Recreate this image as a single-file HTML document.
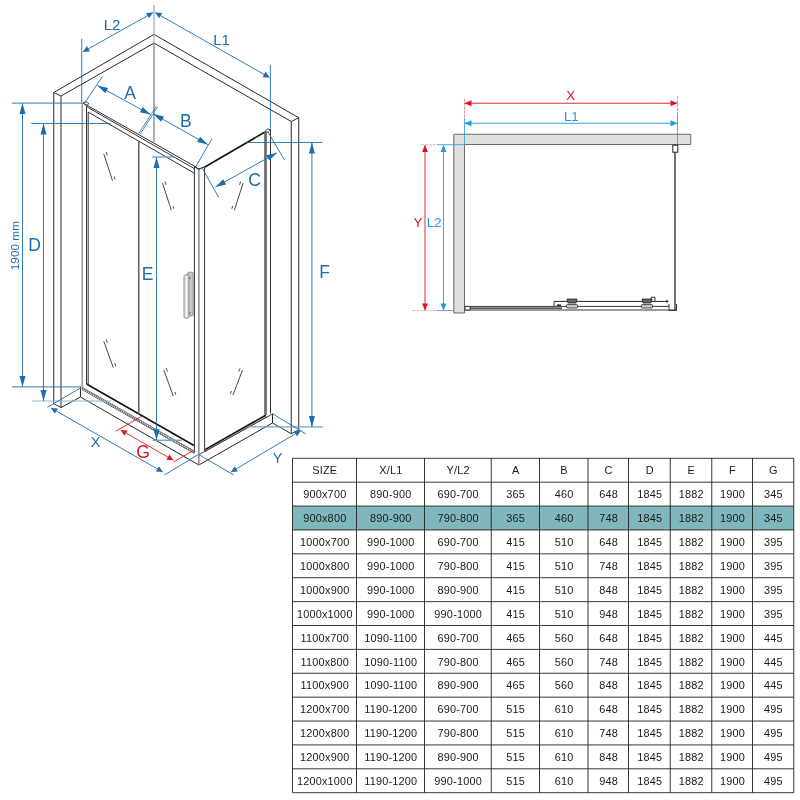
<!DOCTYPE html>
<html><head><meta charset="utf-8"><title>Shower enclosure dimensions</title>
<style>
html,body{margin:0;padding:0;background:#fff;}
body{width:800px;height:800px;overflow:hidden;}
svg{display:block;font-family:"Liberation Sans",sans-serif;will-change:transform;}
</style></head><body>
<svg width="800" height="800" viewBox="0 0 800 800">
<rect width="800" height="800" fill="#fff"/>
<polyline points="53.75,403.75 53.75,92.5 154,34.4 298.75,117.75 298.75,430 291.25,433.75 291.25,121.5 154,43.1 61,96 61,407.5 53.75,403.75" stroke="#2a2a2a" stroke-width="1" fill="none"/>
<line x1="53.75" y1="92.5" x2="61" y2="96" stroke="#2a2a2a" stroke-width="1" />
<line x1="298.75" y1="117.75" x2="291.25" y2="121.5" stroke="#2a2a2a" stroke-width="1" />
<line x1="154" y1="43.1" x2="154" y2="141.9" stroke="#777" stroke-width="1.2" />
<line x1="154" y1="5" x2="154" y2="43" stroke="#6fa3c8" stroke-width="1" />
<polyline points="61,407.5 80.5,397 198.9,465 272.5,423" stroke="#2a2a2a" stroke-width="1" fill="none"/>
<line x1="80.5" y1="387.5" x2="80.5" y2="397" stroke="#2a2a2a" stroke-width="1" />
<line x1="272.5" y1="413.75" x2="272.5" y2="423" stroke="#2a2a2a" stroke-width="1" />
<line x1="272.5" y1="423" x2="291.25" y2="433.75" stroke="#2a2a2a" stroke-width="1" />
<line x1="82" y1="387.2" x2="194.4" y2="451.2" stroke="#444" stroke-width="0.7" />
<line x1="82" y1="389.6" x2="194.4" y2="453.6" stroke="#444" stroke-width="0.7" />
<line x1="198.9" y1="454.6" x2="272.5" y2="414" stroke="#333" stroke-width="0.9" />
<line x1="82" y1="388.4" x2="194.4" y2="452.4" stroke="#555" stroke-width="2.2" stroke-dasharray="1 1"/>
<line x1="86.6" y1="384" x2="194" y2="445.5" stroke="#111" stroke-width="1.5" />
<line x1="265.8" y1="415.2" x2="205" y2="449.6" stroke="#111" stroke-width="1.6" />
<line x1="267.5" y1="416.3" x2="205" y2="451.6" stroke="#444" stroke-width="0.8" />
<line x1="82.2" y1="103" x2="82.2" y2="387.5" stroke="#888" stroke-width="1.3" />
<line x1="86.5" y1="106" x2="86.5" y2="384" stroke="#333" stroke-width="1" />
<line x1="88.2" y1="112" x2="88.2" y2="384.5" stroke="#333" stroke-width="1" />
<line x1="84" y1="103.6" x2="196" y2="167" stroke="#333" stroke-width="1" />
<line x1="86" y1="106.3" x2="195" y2="169" stroke="#333" stroke-width="1" />
<line x1="88" y1="112" x2="194.4" y2="173.2" stroke="#333" stroke-width="1" />
<polyline points="83,103 86,101.8 89,103.6 86.5,105.5 83,103" stroke="#333" stroke-width="0.9" fill="none"/>
<line x1="138.75" y1="142" x2="138.75" y2="414" stroke="#666" stroke-width="1.6" />
<line x1="194.4" y1="166.5" x2="194.4" y2="452.6" stroke="#333" stroke-width="1" />
<line x1="198.9" y1="169" x2="198.9" y2="465" stroke="#888" stroke-width="1.5" />
<line x1="204.6" y1="168" x2="204.6" y2="451" stroke="#333" stroke-width="1" />
<polyline points="194.4,166.5 198.5,169 204.4,167" stroke="#222" stroke-width="1.2" fill="none"/>
<line x1="204.4" y1="167.3" x2="265" y2="132" stroke="#111" stroke-width="1.6" />
<line x1="265.5" y1="132" x2="265.5" y2="415" stroke="#666" stroke-width="2.6" />
<line x1="270.5" y1="129.5" x2="270.5" y2="413.5" stroke="#333" stroke-width="1" />
<polyline points="265,131.5 267.5,128.8 270.5,129.8 268,132.3 265,131.5" stroke="#333" stroke-width="0.9" fill="none"/>
<rect x="187.6" y="272.2" width="5.6" height="43.8" rx="1.6" fill="#cbc7c7" stroke="#777" stroke-width="0.8"/>
<rect x="184" y="274.8" width="4.9" height="43.4" rx="1.6" fill="#e4e1e1" stroke="#777" stroke-width="0.8"/>
<line x1="186.4" y1="276.5" x2="186.4" y2="316.5" stroke="#f6f5f5" stroke-width="1.2" />
<line x1="189.9" y1="277" x2="189.9" y2="279" stroke="#444" stroke-width="0.8" />
<line x1="189.9" y1="312" x2="189.9" y2="314" stroke="#444" stroke-width="0.8" />
<line x1="103.75" y1="153.75" x2="112.5" y2="180.6" stroke="#333" stroke-width="0.9" />
<line x1="106.19507667982853" y1="152.07460672610245" x2="107.27953992102877" y2="155.40235964338544" stroke="#333" stroke-width="0.9" />
<line x1="114.17046007897122" y1="176.54764035661458" x2="115.1" y2="179.4" stroke="#333" stroke-width="0.9" />
<line x1="162.5" y1="183.1" x2="171.25" y2="210" stroke="#333" stroke-width="0.9" />
<line x1="164.9453370653143" y1="181.42452194936632" x2="166.02797760811407" y2="184.75286830380213" stroke="#333" stroke-width="0.9" />
<line x1="172.92202239188592" y1="205.94713169619789" x2="173.85" y2="208.8" stroke="#333" stroke-width="0.9" />
<line x1="243.1" y1="183.1" x2="234.4" y2="210" stroke="#333" stroke-width="0.9" />
<line x1="240.65386305472614" y1="181.42426250895022" x2="239.5768216716432" y2="184.7544249462987" stroke="#333" stroke-width="0.9" />
<line x1="232.72317832835682" y1="205.9455750537013" x2="231.8" y2="208.8" stroke="#333" stroke-width="0.9" />
<line x1="103.75" y1="341.25" x2="113.25" y2="367.5" stroke="#333" stroke-width="0.9" />
<line x1="106.1798477138997" y1="339.5798423673545" x2="107.3709137166017" y2="342.8709457958732" stroke="#333" stroke-width="0.9" />
<line x1="114.82908628339828" y1="363.47905420412684" x2="115.85" y2="366.3" stroke="#333" stroke-width="0.9" />
<line x1="163.75" y1="370" x2="173.25" y2="396" stroke="#333" stroke-width="0.9" />
<line x1="166.17840352353824" y1="368.33036753810467" x2="167.3795788587706" y2="371.61779477137225" stroke="#333" stroke-width="0.9" />
<line x1="174.8204211412294" y1="391.9822052286278" x2="175.85" y2="394.8" stroke="#333" stroke-width="0.9" />
<line x1="242.5" y1="370" x2="233" y2="395" stroke="#333" stroke-width="0.9" />
<line x1="240.0776088803118" y1="368.3326082097058" x2="238.8343467181293" y2="371.6043507417651" stroke="#333" stroke-width="0.9" />
<line x1="231.46565328187071" y1="390.99564925823495" x2="230.4" y2="393.8" stroke="#333" stroke-width="0.9" />
<line x1="12" y1="103.1" x2="82.5" y2="103.1" stroke="#1c6dab" stroke-width="0.9" />
<line x1="12" y1="386.9" x2="81.25" y2="386.9" stroke="#1c6dab" stroke-width="0.9" />
<line x1="22.5" y1="103.1" x2="22.5" y2="386.9" stroke="#1c6dab" stroke-width="0.9" />
<polygon points="22.50,103.10 25.50,114.10 19.50,114.10" fill="#1c6dab"/>
<polygon points="22.50,386.90 19.50,375.90 25.50,375.90" fill="#1c6dab"/>
<line x1="31.25" y1="123.5" x2="110.6" y2="123.5" stroke="#1c6dab" stroke-width="0.9" />
<line x1="31.9" y1="401" x2="111.25" y2="401" stroke="#8fb5d3" stroke-width="1.2" />
<line x1="43.5" y1="123.5" x2="43.5" y2="401" stroke="#1c6dab" stroke-width="0.9" />
<polygon points="43.50,123.50 46.50,134.50 40.50,134.50" fill="#1c6dab"/>
<polygon points="43.50,401.00 40.50,390.00 46.50,390.00" fill="#1c6dab"/>
<line x1="151.9" y1="157" x2="174.4" y2="157" stroke="#6fa3c8" stroke-width="1.4" />
<line x1="152.5" y1="440.25" x2="181.9" y2="440.25" stroke="#6fa3c8" stroke-width="1.4" />
<line x1="156.5" y1="157" x2="156.5" y2="440.25" stroke="#1c6dab" stroke-width="0.9" />
<polygon points="156.50,157.00 159.50,168.00 153.50,168.00" fill="#1c6dab"/>
<polygon points="156.50,440.25 153.50,429.25 159.50,429.25" fill="#1c6dab"/>
<line x1="246.9" y1="142.5" x2="322.5" y2="142.5" stroke="#1c6dab" stroke-width="0.9" />
<line x1="247.5" y1="426.9" x2="323" y2="426.9" stroke="#6fa3c8" stroke-width="1.2" />
<line x1="311.9" y1="142.5" x2="311.9" y2="426.9" stroke="#1c6dab" stroke-width="0.9" />
<polygon points="311.90,142.50 314.90,153.50 308.90,153.50" fill="#1c6dab"/>
<polygon points="311.90,426.90 308.90,415.90 314.90,415.90" fill="#1c6dab"/>
<line x1="81.75" y1="38.75" x2="81.75" y2="102.5" stroke="#1c6dab" stroke-width="0.9" />
<line x1="83" y1="51.8" x2="153" y2="12.6" stroke="#1c6dab" stroke-width="0.9" />
<polygon points="83.00,51.80 86.89,46.07 89.92,51.48" fill="#1c6dab"/>
<polygon points="153.00,12.60 149.11,18.33 146.08,12.92" fill="#1c6dab"/>
<line x1="270.4" y1="65" x2="270.4" y2="128.75" stroke="#1c6dab" stroke-width="0.9" />
<line x1="155.2" y1="12.6" x2="269.5" y2="77.5" stroke="#1c6dab" stroke-width="0.9" />
<polygon points="155.20,12.60 162.12,12.97 159.06,18.36" fill="#1c6dab"/>
<polygon points="269.50,77.50 262.58,77.13 265.64,71.74" fill="#1c6dab"/>
<line x1="102.5" y1="76.25" x2="85" y2="102.5" stroke="#1c6dab" stroke-width="0.9" />
<line x1="97.5" y1="85.5" x2="150.5" y2="114.6" stroke="#1c6dab" stroke-width="0.9" />
<polygon points="97.50,85.50 108.15,87.92 105.26,93.18" fill="#1c6dab"/>
<polygon points="150.50,114.60 139.85,112.18 142.74,106.92" fill="#1c6dab"/>
<line x1="156.25" y1="106.25" x2="138.75" y2="133.5" stroke="#1c6dab" stroke-width="0.8" />
<line x1="157.6" y1="107" x2="140.2" y2="134.2" stroke="#1c6dab" stroke-width="0.8" />
<line x1="211.9" y1="138.75" x2="195.6" y2="166.9" stroke="#1c6dab" stroke-width="0.9" />
<line x1="153.4" y1="113.9" x2="207.8" y2="144.6" stroke="#1c6dab" stroke-width="0.9" />
<polygon points="153.40,113.90 164.02,116.45 161.07,121.67" fill="#1c6dab"/>
<polygon points="207.80,144.60 197.18,142.05 200.13,136.83" fill="#1c6dab"/>
<line x1="268" y1="132" x2="284.4" y2="160" stroke="#1c6dab" stroke-width="0.9" />
<line x1="202.5" y1="168.75" x2="218.75" y2="197.5" stroke="#1c6dab" stroke-width="0.9" />
<line x1="277" y1="152.7" x2="215.5" y2="187" stroke="#1c6dab" stroke-width="0.9" />
<polygon points="277.00,152.70 269.29,160.43 266.37,155.19" fill="#1c6dab"/>
<polygon points="215.50,187.00 223.21,179.27 226.13,184.51" fill="#1c6dab"/>
<line x1="81.25" y1="387.5" x2="47.5" y2="407.25" stroke="#1c6dab" stroke-width="0.9" />
<line x1="198.5" y1="454.4" x2="164.4" y2="475" stroke="#1c6dab" stroke-width="0.9" />
<line x1="51" y1="408" x2="162.8" y2="472" stroke="#1c6dab" stroke-width="0.9" />
<polygon points="51.00,408.00 57.92,408.39 54.84,413.77" fill="#1c6dab"/>
<polygon points="162.80,472.00 155.88,471.61 158.96,466.23" fill="#1c6dab"/>
<line x1="198.5" y1="454.4" x2="233.75" y2="475" stroke="#1c6dab" stroke-width="0.9" />
<line x1="272.5" y1="413.75" x2="305.6" y2="433.75" stroke="#1c6dab" stroke-width="0.9" />
<line x1="231" y1="472" x2="300.8" y2="430.6" stroke="#1c6dab" stroke-width="0.9" />
<polygon points="231.00,472.00 234.75,466.17 237.91,471.50" fill="#1c6dab"/>
<polygon points="300.80,430.60 297.05,436.43 293.89,431.10" fill="#1c6dab"/>
<line x1="141.9" y1="416.25" x2="115.6" y2="431.25" stroke="#de1520" stroke-width="0.9" />
<line x1="193.1" y1="450.6" x2="173.75" y2="461.9" stroke="#de1520" stroke-width="0.9" />
<line x1="120.6" y1="430" x2="173.3" y2="460.2" stroke="#de1520" stroke-width="0.9" />
<polygon points="120.60,430.00 127.52,430.39 124.44,435.77" fill="#de1520"/>
<polygon points="173.30,460.20 166.38,459.81 169.46,454.43" fill="#de1520"/>
<text x="112" y="29.9" font-size="15" fill="#1c6dab" text-anchor="middle">L2</text>
<text x="221.5" y="44.7" font-size="15" fill="#1c6dab" text-anchor="middle">L1</text>
<text x="130" y="99.3" font-size="17.5" fill="#1c6dab" text-anchor="middle">A</text>
<text x="185.75" y="126.8" font-size="17.5" fill="#1c6dab" text-anchor="middle">B</text>
<text x="254.5" y="186.3" font-size="17.5" fill="#1c6dab" text-anchor="middle">C</text>
<text x="34.5" y="250.5" font-size="17.5" fill="#1c6dab" text-anchor="middle">D</text>
<text x="147.5" y="280" font-size="17.5" fill="#1c6dab" text-anchor="middle">E</text>
<text x="324.5" y="278" font-size="17.5" fill="#1c6dab" text-anchor="middle">F</text>
<text x="95.5" y="447.2" font-size="14.5" fill="#1c6dab" text-anchor="middle">X</text>
<text x="277.5" y="463.2" font-size="14.5" fill="#1c6dab" text-anchor="middle">Y</text>
<text x="143" y="457.5" font-size="17.5" fill="#de1520" text-anchor="middle">G</text>
<text x="18.9" y="245.6" font-size="11.8" fill="#1c6dab" text-anchor="middle" transform="rotate(-90 18.9 245.6)">1900 mm</text>
<path d="M453.75 134.25 H690.75 V144.5 H464.5 V313 H453.75 Z" fill="#dedede" stroke="#5a5a5a" stroke-width="0.9"/>
<line x1="464.5" y1="98.5" x2="464.5" y2="118" stroke="#e8707a" stroke-width="0.8" stroke-dasharray="3 1"/>
<line x1="464.5" y1="118" x2="464.5" y2="144.5" stroke="#1e9be0" stroke-width="0.8" />
<line x1="677.5" y1="96" x2="677.5" y2="115" stroke="#e8707a" stroke-width="0.8" stroke-dasharray="3 1"/>
<line x1="677.5" y1="115" x2="677.5" y2="146" stroke="#1e9be0" stroke-width="0.8" />
<line x1="464.5" y1="103.25" x2="677.5" y2="103.25" stroke="#de1520" stroke-width="0.9" />
<polygon points="464.50,103.25 471.50,100.25 471.50,106.25" fill="#de1520"/>
<polygon points="677.50,103.25 670.50,106.25 670.50,100.25" fill="#de1520"/>
<line x1="464.5" y1="123.25" x2="677.5" y2="123.25" stroke="#1e9be0" stroke-width="0.9" />
<polygon points="464.50,123.25 471.50,120.25 471.50,126.25" fill="#1e9be0"/>
<polygon points="677.50,123.25 670.50,126.25 670.50,120.25" fill="#1e9be0"/>
<line x1="421" y1="144.7" x2="437" y2="144.7" stroke="#f0a0a6" stroke-width="0.8" stroke-dasharray="3 1"/>
<line x1="437" y1="144.7" x2="464.5" y2="144.7" stroke="#1e9be0" stroke-width="0.8" />
<line x1="412.5" y1="310.5" x2="437" y2="310.5" stroke="#f0a0a6" stroke-width="0.8" stroke-dasharray="3 1"/>
<line x1="437" y1="310.5" x2="454" y2="310.5" stroke="#1e9be0" stroke-width="0.8" />
<line x1="425" y1="145" x2="425" y2="310.5" stroke="#de1520" stroke-width="0.9" />
<polygon points="425.00,145.00 428.00,152.00 422.00,152.00" fill="#de1520"/>
<polygon points="425.00,310.50 422.00,303.50 428.00,303.50" fill="#de1520"/>
<line x1="443.5" y1="145" x2="443.5" y2="310.5" stroke="#1e9be0" stroke-width="0.9" />
<polygon points="443.50,145.00 446.50,152.00 440.50,152.00" fill="#1e9be0"/>
<polygon points="443.50,310.50 440.50,303.50 446.50,303.50" fill="#1e9be0"/>
<text x="570.75" y="100.2" font-size="13.3" fill="#de1520" text-anchor="middle">X</text>
<text x="571.3" y="121.4" font-size="13.3" fill="#1e9be0" text-anchor="middle">L1</text>
<text x="418" y="226.5" font-size="13.3" fill="#de1520" text-anchor="middle">Y</text>
<text x="434.2" y="226.5" font-size="13.3" fill="#1e9be0" text-anchor="middle">L2</text>
<line x1="675" y1="146" x2="675" y2="310" stroke="#3a3a3a" stroke-width="1.4" />
<rect x="672.8" y="145.2" width="5" height="7" fill="#fff" stroke="#222" stroke-width="1"/>
<line x1="465" y1="306.4" x2="669" y2="306.4" stroke="#222" stroke-width="0.9" />
<line x1="465" y1="310" x2="676.5" y2="310" stroke="#222" stroke-width="0.9" />
<line x1="470" y1="308.2" x2="562" y2="308.2" stroke="#222" stroke-width="1.3" />
<rect x="465" y="306.4" width="5" height="3.6" fill="#fff" stroke="#222" stroke-width="0.8"/>
<line x1="554" y1="301.4" x2="667" y2="301.4" stroke="#222" stroke-width="1" />
<line x1="554" y1="301.4" x2="554" y2="306.4" stroke="#222" stroke-width="0.9" />
<line x1="557" y1="305.2" x2="561" y2="305.2" stroke="#111" stroke-width="1.4" />
<polyline points="651,301 651,297.2 655,297.2 655,301" stroke="#222" stroke-width="0.9" fill="none"/>
<path d="M567 299 H577 L576 303 H568 Z" fill="#666" stroke="#222" stroke-width="0.8"/>
<rect x="566.5" y="304.6" width="11" height="3.4" rx="1" fill="#ccc" stroke="#222" stroke-width="0.8"/>
<path d="M642 299 H652 L651 303 H643 Z" fill="#666" stroke="#222" stroke-width="0.8"/>
<rect x="641.5" y="304.6" width="11" height="3.4" rx="1" fill="#ccc" stroke="#222" stroke-width="0.8"/>
<circle cx="667" cy="301.4" r="1.2" fill="#222"/>
<polyline points="669,304 669,310.4 676.5,310.4 676.5,304" stroke="#222" stroke-width="0.9" fill="none"/>
<rect x="292.5" y="506.07" width="501.25" height="23.89" fill="#7fb7bd"/>
<line x1="292.5" y1="458.30" x2="793.75" y2="458.30" stroke="#222" stroke-width="0.9" />
<line x1="292.5" y1="482.19" x2="793.75" y2="482.19" stroke="#222" stroke-width="0.9" />
<line x1="292.5" y1="506.07" x2="793.75" y2="506.07" stroke="#222" stroke-width="0.9" />
<line x1="292.5" y1="529.96" x2="793.75" y2="529.96" stroke="#222" stroke-width="0.9" />
<line x1="292.5" y1="553.84" x2="793.75" y2="553.84" stroke="#222" stroke-width="0.9" />
<line x1="292.5" y1="577.73" x2="793.75" y2="577.73" stroke="#222" stroke-width="0.9" />
<line x1="292.5" y1="601.61" x2="793.75" y2="601.61" stroke="#222" stroke-width="0.9" />
<line x1="292.5" y1="625.50" x2="793.75" y2="625.50" stroke="#222" stroke-width="0.9" />
<line x1="292.5" y1="649.39" x2="793.75" y2="649.39" stroke="#222" stroke-width="0.9" />
<line x1="292.5" y1="673.27" x2="793.75" y2="673.27" stroke="#222" stroke-width="0.9" />
<line x1="292.5" y1="697.16" x2="793.75" y2="697.16" stroke="#222" stroke-width="0.9" />
<line x1="292.5" y1="721.04" x2="793.75" y2="721.04" stroke="#222" stroke-width="0.9" />
<line x1="292.5" y1="744.93" x2="793.75" y2="744.93" stroke="#222" stroke-width="0.9" />
<line x1="292.5" y1="768.81" x2="793.75" y2="768.81" stroke="#222" stroke-width="0.9" />
<line x1="292.5" y1="792.70" x2="793.75" y2="792.70" stroke="#222" stroke-width="0.9" />
<line x1="292.5" y1="458.3" x2="292.5" y2="792.7" stroke="#222" stroke-width="0.9" />
<line x1="356.5" y1="458.3" x2="356.5" y2="792.7" stroke="#222" stroke-width="0.9" />
<line x1="424.5" y1="458.3" x2="424.5" y2="792.7" stroke="#222" stroke-width="0.9" />
<line x1="491.25" y1="458.3" x2="491.25" y2="792.7" stroke="#222" stroke-width="0.9" />
<line x1="539.5" y1="458.3" x2="539.5" y2="792.7" stroke="#222" stroke-width="0.9" />
<line x1="588" y1="458.3" x2="588" y2="792.7" stroke="#222" stroke-width="0.9" />
<line x1="628.5" y1="458.3" x2="628.5" y2="792.7" stroke="#222" stroke-width="0.9" />
<line x1="670.25" y1="458.3" x2="670.25" y2="792.7" stroke="#222" stroke-width="0.9" />
<line x1="711.75" y1="458.3" x2="711.75" y2="792.7" stroke="#222" stroke-width="0.9" />
<line x1="752.5" y1="458.3" x2="752.5" y2="792.7" stroke="#222" stroke-width="0.9" />
<line x1="793.75" y1="458.3" x2="793.75" y2="792.7" stroke="#222" stroke-width="0.9" />
<text x="324.80" y="474.44" font-size="10.9" letter-spacing="0.2" fill="#1a1a1a" text-anchor="middle">SIZE</text>
<text x="390.80" y="474.44" font-size="10.9" letter-spacing="0.2" fill="#1a1a1a" text-anchor="middle">X/L1</text>
<text x="458.18" y="474.44" font-size="10.9" letter-spacing="0.2" fill="#1a1a1a" text-anchor="middle">Y/L2</text>
<text x="515.67" y="474.44" font-size="10.9" letter-spacing="0.2" fill="#1a1a1a" text-anchor="middle">A</text>
<text x="564.05" y="474.44" font-size="10.9" letter-spacing="0.2" fill="#1a1a1a" text-anchor="middle">B</text>
<text x="608.55" y="474.44" font-size="10.9" letter-spacing="0.2" fill="#1a1a1a" text-anchor="middle">C</text>
<text x="649.67" y="474.44" font-size="10.9" letter-spacing="0.2" fill="#1a1a1a" text-anchor="middle">D</text>
<text x="691.30" y="474.44" font-size="10.9" letter-spacing="0.2" fill="#1a1a1a" text-anchor="middle">E</text>
<text x="732.42" y="474.44" font-size="10.9" letter-spacing="0.2" fill="#1a1a1a" text-anchor="middle">F</text>
<text x="773.42" y="474.44" font-size="10.9" letter-spacing="0.2" fill="#1a1a1a" text-anchor="middle">G</text>
<text x="324.80" y="498.33" font-size="10.9" letter-spacing="0.2" fill="#1a1a1a" text-anchor="middle">900x700</text>
<text x="390.80" y="498.33" font-size="10.9" letter-spacing="0.2" fill="#1a1a1a" text-anchor="middle">890-900</text>
<text x="458.18" y="498.33" font-size="10.9" letter-spacing="0.2" fill="#1a1a1a" text-anchor="middle">690-700</text>
<text x="515.67" y="498.33" font-size="10.9" letter-spacing="0.2" fill="#1a1a1a" text-anchor="middle">365</text>
<text x="564.05" y="498.33" font-size="10.9" letter-spacing="0.2" fill="#1a1a1a" text-anchor="middle">460</text>
<text x="608.55" y="498.33" font-size="10.9" letter-spacing="0.2" fill="#1a1a1a" text-anchor="middle">648</text>
<text x="649.67" y="498.33" font-size="10.9" letter-spacing="0.2" fill="#1a1a1a" text-anchor="middle">1845</text>
<text x="691.30" y="498.33" font-size="10.9" letter-spacing="0.2" fill="#1a1a1a" text-anchor="middle">1882</text>
<text x="732.42" y="498.33" font-size="10.9" letter-spacing="0.2" fill="#1a1a1a" text-anchor="middle">1900</text>
<text x="773.42" y="498.33" font-size="10.9" letter-spacing="0.2" fill="#1a1a1a" text-anchor="middle">345</text>
<text x="324.80" y="522.21" font-size="10.9" letter-spacing="0.2" fill="#1a1a1a" text-anchor="middle">900x800</text>
<text x="390.80" y="522.21" font-size="10.9" letter-spacing="0.2" fill="#1a1a1a" text-anchor="middle">890-900</text>
<text x="458.18" y="522.21" font-size="10.9" letter-spacing="0.2" fill="#1a1a1a" text-anchor="middle">790-800</text>
<text x="515.67" y="522.21" font-size="10.9" letter-spacing="0.2" fill="#1a1a1a" text-anchor="middle">365</text>
<text x="564.05" y="522.21" font-size="10.9" letter-spacing="0.2" fill="#1a1a1a" text-anchor="middle">460</text>
<text x="608.55" y="522.21" font-size="10.9" letter-spacing="0.2" fill="#1a1a1a" text-anchor="middle">748</text>
<text x="649.67" y="522.21" font-size="10.9" letter-spacing="0.2" fill="#1a1a1a" text-anchor="middle">1845</text>
<text x="691.30" y="522.21" font-size="10.9" letter-spacing="0.2" fill="#1a1a1a" text-anchor="middle">1882</text>
<text x="732.42" y="522.21" font-size="10.9" letter-spacing="0.2" fill="#1a1a1a" text-anchor="middle">1900</text>
<text x="773.42" y="522.21" font-size="10.9" letter-spacing="0.2" fill="#1a1a1a" text-anchor="middle">345</text>
<text x="324.80" y="546.10" font-size="10.9" letter-spacing="0.2" fill="#1a1a1a" text-anchor="middle">1000x700</text>
<text x="390.80" y="546.10" font-size="10.9" letter-spacing="0.2" fill="#1a1a1a" text-anchor="middle">990-1000</text>
<text x="458.18" y="546.10" font-size="10.9" letter-spacing="0.2" fill="#1a1a1a" text-anchor="middle">690-700</text>
<text x="515.67" y="546.10" font-size="10.9" letter-spacing="0.2" fill="#1a1a1a" text-anchor="middle">415</text>
<text x="564.05" y="546.10" font-size="10.9" letter-spacing="0.2" fill="#1a1a1a" text-anchor="middle">510</text>
<text x="608.55" y="546.10" font-size="10.9" letter-spacing="0.2" fill="#1a1a1a" text-anchor="middle">648</text>
<text x="649.67" y="546.10" font-size="10.9" letter-spacing="0.2" fill="#1a1a1a" text-anchor="middle">1845</text>
<text x="691.30" y="546.10" font-size="10.9" letter-spacing="0.2" fill="#1a1a1a" text-anchor="middle">1882</text>
<text x="732.42" y="546.10" font-size="10.9" letter-spacing="0.2" fill="#1a1a1a" text-anchor="middle">1900</text>
<text x="773.42" y="546.10" font-size="10.9" letter-spacing="0.2" fill="#1a1a1a" text-anchor="middle">395</text>
<text x="324.80" y="569.99" font-size="10.9" letter-spacing="0.2" fill="#1a1a1a" text-anchor="middle">1000x800</text>
<text x="390.80" y="569.99" font-size="10.9" letter-spacing="0.2" fill="#1a1a1a" text-anchor="middle">990-1000</text>
<text x="458.18" y="569.99" font-size="10.9" letter-spacing="0.2" fill="#1a1a1a" text-anchor="middle">790-800</text>
<text x="515.67" y="569.99" font-size="10.9" letter-spacing="0.2" fill="#1a1a1a" text-anchor="middle">415</text>
<text x="564.05" y="569.99" font-size="10.9" letter-spacing="0.2" fill="#1a1a1a" text-anchor="middle">510</text>
<text x="608.55" y="569.99" font-size="10.9" letter-spacing="0.2" fill="#1a1a1a" text-anchor="middle">748</text>
<text x="649.67" y="569.99" font-size="10.9" letter-spacing="0.2" fill="#1a1a1a" text-anchor="middle">1845</text>
<text x="691.30" y="569.99" font-size="10.9" letter-spacing="0.2" fill="#1a1a1a" text-anchor="middle">1882</text>
<text x="732.42" y="569.99" font-size="10.9" letter-spacing="0.2" fill="#1a1a1a" text-anchor="middle">1900</text>
<text x="773.42" y="569.99" font-size="10.9" letter-spacing="0.2" fill="#1a1a1a" text-anchor="middle">395</text>
<text x="324.80" y="593.87" font-size="10.9" letter-spacing="0.2" fill="#1a1a1a" text-anchor="middle">1000x900</text>
<text x="390.80" y="593.87" font-size="10.9" letter-spacing="0.2" fill="#1a1a1a" text-anchor="middle">990-1000</text>
<text x="458.18" y="593.87" font-size="10.9" letter-spacing="0.2" fill="#1a1a1a" text-anchor="middle">890-900</text>
<text x="515.67" y="593.87" font-size="10.9" letter-spacing="0.2" fill="#1a1a1a" text-anchor="middle">415</text>
<text x="564.05" y="593.87" font-size="10.9" letter-spacing="0.2" fill="#1a1a1a" text-anchor="middle">510</text>
<text x="608.55" y="593.87" font-size="10.9" letter-spacing="0.2" fill="#1a1a1a" text-anchor="middle">848</text>
<text x="649.67" y="593.87" font-size="10.9" letter-spacing="0.2" fill="#1a1a1a" text-anchor="middle">1845</text>
<text x="691.30" y="593.87" font-size="10.9" letter-spacing="0.2" fill="#1a1a1a" text-anchor="middle">1882</text>
<text x="732.42" y="593.87" font-size="10.9" letter-spacing="0.2" fill="#1a1a1a" text-anchor="middle">1900</text>
<text x="773.42" y="593.87" font-size="10.9" letter-spacing="0.2" fill="#1a1a1a" text-anchor="middle">395</text>
<text x="324.80" y="617.76" font-size="10.9" letter-spacing="0.2" fill="#1a1a1a" text-anchor="middle">1000x1000</text>
<text x="390.80" y="617.76" font-size="10.9" letter-spacing="0.2" fill="#1a1a1a" text-anchor="middle">990-1000</text>
<text x="458.18" y="617.76" font-size="10.9" letter-spacing="0.2" fill="#1a1a1a" text-anchor="middle">990-1000</text>
<text x="515.67" y="617.76" font-size="10.9" letter-spacing="0.2" fill="#1a1a1a" text-anchor="middle">415</text>
<text x="564.05" y="617.76" font-size="10.9" letter-spacing="0.2" fill="#1a1a1a" text-anchor="middle">510</text>
<text x="608.55" y="617.76" font-size="10.9" letter-spacing="0.2" fill="#1a1a1a" text-anchor="middle">948</text>
<text x="649.67" y="617.76" font-size="10.9" letter-spacing="0.2" fill="#1a1a1a" text-anchor="middle">1845</text>
<text x="691.30" y="617.76" font-size="10.9" letter-spacing="0.2" fill="#1a1a1a" text-anchor="middle">1882</text>
<text x="732.42" y="617.76" font-size="10.9" letter-spacing="0.2" fill="#1a1a1a" text-anchor="middle">1900</text>
<text x="773.42" y="617.76" font-size="10.9" letter-spacing="0.2" fill="#1a1a1a" text-anchor="middle">395</text>
<text x="324.80" y="641.64" font-size="10.9" letter-spacing="0.2" fill="#1a1a1a" text-anchor="middle">1100x700</text>
<text x="390.80" y="641.64" font-size="10.9" letter-spacing="0.2" fill="#1a1a1a" text-anchor="middle">1090-1100</text>
<text x="458.18" y="641.64" font-size="10.9" letter-spacing="0.2" fill="#1a1a1a" text-anchor="middle">690-700</text>
<text x="515.67" y="641.64" font-size="10.9" letter-spacing="0.2" fill="#1a1a1a" text-anchor="middle">465</text>
<text x="564.05" y="641.64" font-size="10.9" letter-spacing="0.2" fill="#1a1a1a" text-anchor="middle">560</text>
<text x="608.55" y="641.64" font-size="10.9" letter-spacing="0.2" fill="#1a1a1a" text-anchor="middle">648</text>
<text x="649.67" y="641.64" font-size="10.9" letter-spacing="0.2" fill="#1a1a1a" text-anchor="middle">1845</text>
<text x="691.30" y="641.64" font-size="10.9" letter-spacing="0.2" fill="#1a1a1a" text-anchor="middle">1882</text>
<text x="732.42" y="641.64" font-size="10.9" letter-spacing="0.2" fill="#1a1a1a" text-anchor="middle">1900</text>
<text x="773.42" y="641.64" font-size="10.9" letter-spacing="0.2" fill="#1a1a1a" text-anchor="middle">445</text>
<text x="324.80" y="665.53" font-size="10.9" letter-spacing="0.2" fill="#1a1a1a" text-anchor="middle">1100x800</text>
<text x="390.80" y="665.53" font-size="10.9" letter-spacing="0.2" fill="#1a1a1a" text-anchor="middle">1090-1100</text>
<text x="458.18" y="665.53" font-size="10.9" letter-spacing="0.2" fill="#1a1a1a" text-anchor="middle">790-800</text>
<text x="515.67" y="665.53" font-size="10.9" letter-spacing="0.2" fill="#1a1a1a" text-anchor="middle">465</text>
<text x="564.05" y="665.53" font-size="10.9" letter-spacing="0.2" fill="#1a1a1a" text-anchor="middle">560</text>
<text x="608.55" y="665.53" font-size="10.9" letter-spacing="0.2" fill="#1a1a1a" text-anchor="middle">748</text>
<text x="649.67" y="665.53" font-size="10.9" letter-spacing="0.2" fill="#1a1a1a" text-anchor="middle">1845</text>
<text x="691.30" y="665.53" font-size="10.9" letter-spacing="0.2" fill="#1a1a1a" text-anchor="middle">1882</text>
<text x="732.42" y="665.53" font-size="10.9" letter-spacing="0.2" fill="#1a1a1a" text-anchor="middle">1900</text>
<text x="773.42" y="665.53" font-size="10.9" letter-spacing="0.2" fill="#1a1a1a" text-anchor="middle">445</text>
<text x="324.80" y="689.41" font-size="10.9" letter-spacing="0.2" fill="#1a1a1a" text-anchor="middle">1100x900</text>
<text x="390.80" y="689.41" font-size="10.9" letter-spacing="0.2" fill="#1a1a1a" text-anchor="middle">1090-1100</text>
<text x="458.18" y="689.41" font-size="10.9" letter-spacing="0.2" fill="#1a1a1a" text-anchor="middle">890-900</text>
<text x="515.67" y="689.41" font-size="10.9" letter-spacing="0.2" fill="#1a1a1a" text-anchor="middle">465</text>
<text x="564.05" y="689.41" font-size="10.9" letter-spacing="0.2" fill="#1a1a1a" text-anchor="middle">560</text>
<text x="608.55" y="689.41" font-size="10.9" letter-spacing="0.2" fill="#1a1a1a" text-anchor="middle">848</text>
<text x="649.67" y="689.41" font-size="10.9" letter-spacing="0.2" fill="#1a1a1a" text-anchor="middle">1845</text>
<text x="691.30" y="689.41" font-size="10.9" letter-spacing="0.2" fill="#1a1a1a" text-anchor="middle">1882</text>
<text x="732.42" y="689.41" font-size="10.9" letter-spacing="0.2" fill="#1a1a1a" text-anchor="middle">1900</text>
<text x="773.42" y="689.41" font-size="10.9" letter-spacing="0.2" fill="#1a1a1a" text-anchor="middle">445</text>
<text x="324.80" y="713.30" font-size="10.9" letter-spacing="0.2" fill="#1a1a1a" text-anchor="middle">1200x700</text>
<text x="390.80" y="713.30" font-size="10.9" letter-spacing="0.2" fill="#1a1a1a" text-anchor="middle">1190-1200</text>
<text x="458.18" y="713.30" font-size="10.9" letter-spacing="0.2" fill="#1a1a1a" text-anchor="middle">690-700</text>
<text x="515.67" y="713.30" font-size="10.9" letter-spacing="0.2" fill="#1a1a1a" text-anchor="middle">515</text>
<text x="564.05" y="713.30" font-size="10.9" letter-spacing="0.2" fill="#1a1a1a" text-anchor="middle">610</text>
<text x="608.55" y="713.30" font-size="10.9" letter-spacing="0.2" fill="#1a1a1a" text-anchor="middle">648</text>
<text x="649.67" y="713.30" font-size="10.9" letter-spacing="0.2" fill="#1a1a1a" text-anchor="middle">1845</text>
<text x="691.30" y="713.30" font-size="10.9" letter-spacing="0.2" fill="#1a1a1a" text-anchor="middle">1882</text>
<text x="732.42" y="713.30" font-size="10.9" letter-spacing="0.2" fill="#1a1a1a" text-anchor="middle">1900</text>
<text x="773.42" y="713.30" font-size="10.9" letter-spacing="0.2" fill="#1a1a1a" text-anchor="middle">495</text>
<text x="324.80" y="737.19" font-size="10.9" letter-spacing="0.2" fill="#1a1a1a" text-anchor="middle">1200x800</text>
<text x="390.80" y="737.19" font-size="10.9" letter-spacing="0.2" fill="#1a1a1a" text-anchor="middle">1190-1200</text>
<text x="458.18" y="737.19" font-size="10.9" letter-spacing="0.2" fill="#1a1a1a" text-anchor="middle">790-800</text>
<text x="515.67" y="737.19" font-size="10.9" letter-spacing="0.2" fill="#1a1a1a" text-anchor="middle">515</text>
<text x="564.05" y="737.19" font-size="10.9" letter-spacing="0.2" fill="#1a1a1a" text-anchor="middle">610</text>
<text x="608.55" y="737.19" font-size="10.9" letter-spacing="0.2" fill="#1a1a1a" text-anchor="middle">748</text>
<text x="649.67" y="737.19" font-size="10.9" letter-spacing="0.2" fill="#1a1a1a" text-anchor="middle">1845</text>
<text x="691.30" y="737.19" font-size="10.9" letter-spacing="0.2" fill="#1a1a1a" text-anchor="middle">1882</text>
<text x="732.42" y="737.19" font-size="10.9" letter-spacing="0.2" fill="#1a1a1a" text-anchor="middle">1900</text>
<text x="773.42" y="737.19" font-size="10.9" letter-spacing="0.2" fill="#1a1a1a" text-anchor="middle">495</text>
<text x="324.80" y="761.07" font-size="10.9" letter-spacing="0.2" fill="#1a1a1a" text-anchor="middle">1200x900</text>
<text x="390.80" y="761.07" font-size="10.9" letter-spacing="0.2" fill="#1a1a1a" text-anchor="middle">1190-1200</text>
<text x="458.18" y="761.07" font-size="10.9" letter-spacing="0.2" fill="#1a1a1a" text-anchor="middle">890-900</text>
<text x="515.67" y="761.07" font-size="10.9" letter-spacing="0.2" fill="#1a1a1a" text-anchor="middle">515</text>
<text x="564.05" y="761.07" font-size="10.9" letter-spacing="0.2" fill="#1a1a1a" text-anchor="middle">610</text>
<text x="608.55" y="761.07" font-size="10.9" letter-spacing="0.2" fill="#1a1a1a" text-anchor="middle">848</text>
<text x="649.67" y="761.07" font-size="10.9" letter-spacing="0.2" fill="#1a1a1a" text-anchor="middle">1845</text>
<text x="691.30" y="761.07" font-size="10.9" letter-spacing="0.2" fill="#1a1a1a" text-anchor="middle">1882</text>
<text x="732.42" y="761.07" font-size="10.9" letter-spacing="0.2" fill="#1a1a1a" text-anchor="middle">1900</text>
<text x="773.42" y="761.07" font-size="10.9" letter-spacing="0.2" fill="#1a1a1a" text-anchor="middle">495</text>
<text x="324.80" y="784.96" font-size="10.9" letter-spacing="0.2" fill="#1a1a1a" text-anchor="middle">1200x1000</text>
<text x="390.80" y="784.96" font-size="10.9" letter-spacing="0.2" fill="#1a1a1a" text-anchor="middle">1190-1200</text>
<text x="458.18" y="784.96" font-size="10.9" letter-spacing="0.2" fill="#1a1a1a" text-anchor="middle">990-1000</text>
<text x="515.67" y="784.96" font-size="10.9" letter-spacing="0.2" fill="#1a1a1a" text-anchor="middle">515</text>
<text x="564.05" y="784.96" font-size="10.9" letter-spacing="0.2" fill="#1a1a1a" text-anchor="middle">610</text>
<text x="608.55" y="784.96" font-size="10.9" letter-spacing="0.2" fill="#1a1a1a" text-anchor="middle">948</text>
<text x="649.67" y="784.96" font-size="10.9" letter-spacing="0.2" fill="#1a1a1a" text-anchor="middle">1845</text>
<text x="691.30" y="784.96" font-size="10.9" letter-spacing="0.2" fill="#1a1a1a" text-anchor="middle">1882</text>
<text x="732.42" y="784.96" font-size="10.9" letter-spacing="0.2" fill="#1a1a1a" text-anchor="middle">1900</text>
<text x="773.42" y="784.96" font-size="10.9" letter-spacing="0.2" fill="#1a1a1a" text-anchor="middle">495</text>
</svg>
</body></html>
